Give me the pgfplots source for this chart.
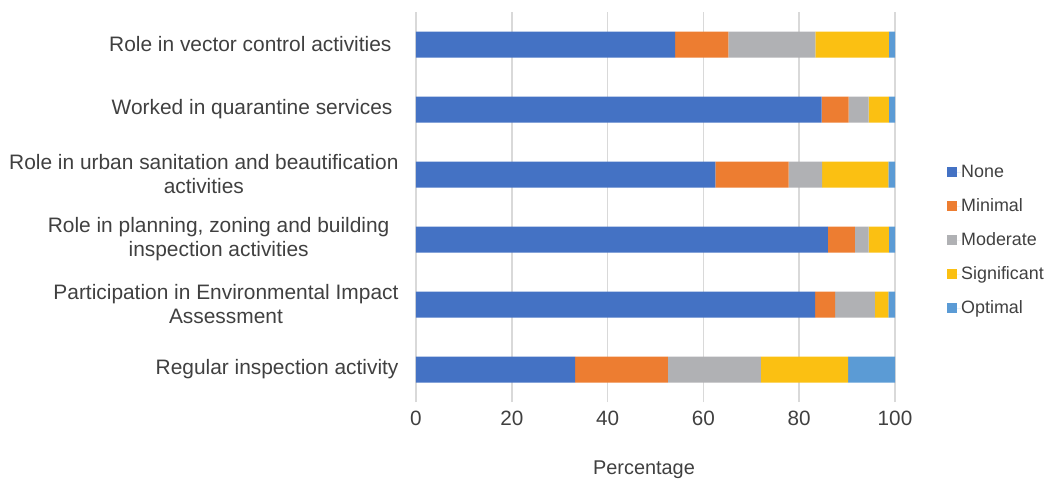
\documentclass[border=0pt]{standalone}
\usepackage{pgfplots}
\pgfplotsset{compat=1.18}
\usepackage{fontspec}
\setmainfont{Liberation Sans}
\definecolor{cNone}{HTML}{4472C4}
\definecolor{cMin}{HTML}{ED7D31}
\definecolor{cMod}{HTML}{B0B1B4}
\definecolor{cSig}{HTML}{FBC012}
\definecolor{cOpt}{HTML}{5B9BD5}
\definecolor{txt}{HTML}{404040}
\definecolor{gridc}{HTML}{D9D9D9}
\begin{document}
\begin{tikzpicture}
\useasboundingbox (-416pt,-78pt) rectangle (635pt,402pt);
\begin{axis}[
  at={(0,0)}, anchor=south west,
  scale only axis,
  width=479pt, height=390pt,
  xbar stacked,
  bar width=26pt,
  xmin=0, xmax=100,
  ymin=-0.5, ymax=5.5,
  xtick={0,20,40,60,80,100},
  ytick={0,1,2,3,4,5},
  yticklabels={
    {Regular inspection activity},
    {Participation in Environmental Impact\\Assessment},
    {Role in planning, zoning and building\hspace*{9pt}\\inspection activities\hspace*{9pt}},
    {Role in urban sanitation and beautification\\activities},
    {Worked in quarantine services\hspace*{6pt}},
    {Role in vector control activities\hspace*{7pt}}},
  yticklabel style={align=center, font=\fontsize{20.9}{24}\selectfont, text=txt, xshift=-14pt},
  xticklabel style={font=\fontsize{20.7}{22}\selectfont, text=txt, yshift=-6pt},
  /pgf/number format/assume math mode=true,
  xlabel={Percentage},
  xlabel style={font=\fontsize{19.9}{22}\selectfont, text=txt, yshift=-28pt, xshift=-11.5pt},
  axis line style={draw=none},
  major tick style={draw=none},
  xmajorgrids,
  grid style={draw=gridc, line width=1.5pt},
  legend style={at={(1.1086,0.413)}, anchor=west, draw=none, fill=none,
    inner sep=0pt, row sep=17pt,
    nodes={font=\fontsize{17.9}{20}\selectfont, text=txt, inner sep=0pt, text height=13pt, text depth=4pt}},
  legend cell align=left,
  legend image code/.code={\fill[#1] (0pt,-4pt) rectangle (10pt,6pt); \path (0pt,0pt) -- (14pt,0pt);},
]
\addplot[fill=cNone, draw=none] coordinates {(33.2,0) (83.3,1) (86.0,2) (62.5,3) (84.7,4) (54.1,5)};
\addplot[fill=cMin, draw=none] coordinates {(19.4,0) (4.2,1) (5.6,2) (15.3,3) (5.6,4) (11.1,5)};
\addplot[fill=cMod, draw=none] coordinates {(19.4,0) (8.3,1) (2.9,2) (7.0,3) (4.2,4) (18.2,5)};
\addplot[fill=cSig, draw=none] coordinates {(18.2,0) (2.8,1) (4.2,2) (13.8,3) (4.2,4) (15.3,5)};
\addplot[fill=cOpt, draw=none] coordinates {(9.8,0) (1.4,1) (1.3,2) (1.4,3) (1.3,4) (1.3,5)};
\legend{None,Minimal,Moderate,Significant,Optimal}
\end{axis}
\end{tikzpicture}
\end{document}
